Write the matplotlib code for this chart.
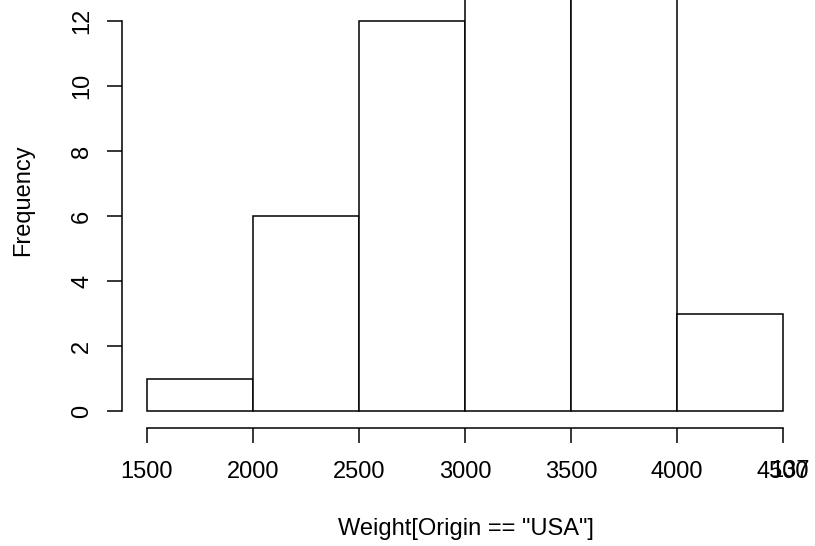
import matplotlib
matplotlib.use("Agg")
import matplotlib.pyplot as plt

# histogram of Weight for US cars (bins of 500)
bin_edges = [1500, 2000, 2500, 3000, 3500, 4000, 4500]
counts = [1, 6, 12, 13, 13, 3]
y_ticks = [0, 2, 4, 6, 8, 10, 12]
x_ticks = [1500, 2000, 2500, 3000, 3500, 4000, 4500]

plt.rcParams['font.family'] = ['Liberation Sans', 'DejaVu Sans']

W, H = 815, 546
fig = plt.figure(figsize=(W / 100, H / 100), dpi=100)

# pixel geometry
px_x0, px_x1 = 147, 783      # 1500 and 4500
px_y0, px_y12 = 411, 21      # 0 and 12
ax_left, ax_bottom = 122, 428

sx = (px_x1 - px_x0) / (4500 - 1500)
sy = (px_y0 - px_y12) / 12.0
xmin = 1500 - (px_x0 - ax_left) / sx
xmax = 1500 + (W - px_x0) / sx
ymin = 0 - (ax_bottom - px_y0) / sy
ymax = 12 + px_y12 / sy

ax = fig.add_axes([ax_left / W, (H - ax_bottom) / H, (W - ax_left) / W, ax_bottom / H])
ax.set_xlim(xmin, xmax)
ax.set_ylim(ymin, ymax)

widths = [bin_edges[i + 1] - bin_edges[i] for i in range(len(counts))]
ax.bar(bin_edges[:-1], counts, width=widths, align='edge',
       facecolor='white', edgecolor='black', linewidth=1.1)

for s in ['top', 'right']:
    ax.spines[s].set_visible(False)
ax.spines['left'].set_bounds(0, 12)
ax.spines['bottom'].set_bounds(1500, 4500)
ax.spines['left'].set_linewidth(1.1)
ax.spines['bottom'].set_linewidth(1.1)

fs = 17
ax.set_xticks(x_ticks)
ax.set_yticks(y_ticks)
ax.set_yticklabels([str(v) for v in y_ticks], rotation=90, va='center')
ax.tick_params(axis='both', length=10.8, width=1.1, labelsize=fs, color='black')
ax.tick_params(axis='x', pad=13)
ax.tick_params(axis='y', pad=10)
ax.patch.set_alpha(0)

fig.text(466 / W, 1 - 535 / H, 'Weight[Origin == "USA"]', ha='center', va='baseline', fontsize=fs)
fig.text(23 / W, 1 - 200 / H, 'Frequency', ha='center', va='center', rotation=90, fontsize=fs)
fig.text(790 / W, 1 - 477 / H, '137', ha='center', va='baseline', fontsize=fs)

fig.savefig('out.png', dpi=100)
